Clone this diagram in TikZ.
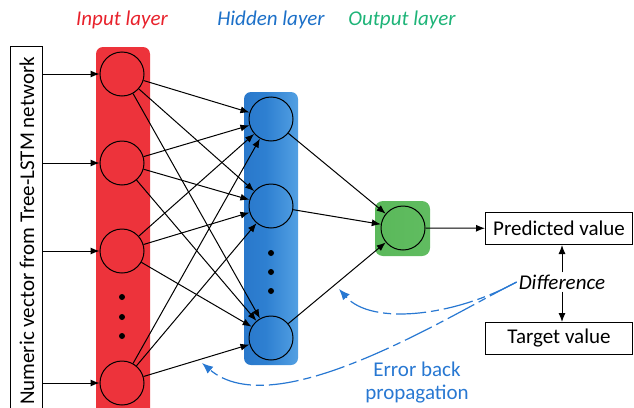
\documentclass[tikz,border=0pt]{standalone}
\usepackage{fontspec}
\setmainfont{Carlito}
\usetikzlibrary{arrows.meta}

\definecolor{inred}{RGB}{232,34,44}
\definecolor{hidblue}{RGB}{28,112,200}
\definecolor{outgreen}{RGB}{30,180,120}
\definecolor{errblue}{RGB}{40,120,210}

% column fills: strong centre, soft edges
\pgfdeclarehorizontalshading{redcol}{100bp}{%
  rgb(0bp)=(0.97,0.66,0.68); rgb(10bp)=(0.93,0.20,0.23); rgb(88bp)=(0.93,0.20,0.23); rgb(100bp)=(0.97,0.66,0.68)}
\pgfdeclarehorizontalshading{bluecol}{100bp}{%
  rgb(0bp)=(0.55,0.75,0.92); rgb(10bp)=(0.15,0.45,0.78); rgb(45bp)=(0.18,0.50,0.82); rgb(80bp)=(0.35,0.65,0.90); rgb(100bp)=(0.78,0.90,0.98)}
\pgfdeclarehorizontalshading{greenbox}{100bp}{%
  rgb(0bp)=(0.62,0.85,0.62); rgb(15bp)=(0.35,0.72,0.35); rgb(80bp)=(0.38,0.74,0.38); rgb(100bp)=(0.70,0.90,0.70)}

\begin{document}
\begin{tikzpicture}[x=1pt,y=-1pt,
  every node/.style={font=\fontsize{21}{24}\selectfont},
  title/.style={font=\fontsize{21}{24}\selectfont\itshape},
  neuron/.style={circle,draw=black,line width=1pt,minimum size=44pt,inner sep=0pt},
  conn/.style={draw=black,line width=1pt,-{Latex[length=9pt,width=7pt]}},
  valbox/.style={draw=black,line width=1pt,minimum width=147pt,minimum height=32pt,inner sep=0pt},
  errpath/.style={draw=errblue,line width=1.2pt,dash pattern=on 30pt off 5pt on 8pt off 5pt,
    -{Latex[length=11pt,width=9pt]}},
  bigdot/.style={circle,fill=black,minimum size=6pt,inner sep=0pt}]

\useasboundingbox (0,0) rectangle (634,407);
\clip (0,0) rectangle (634,407);

% layer columns
\shade[shading=redcol,rounded corners=7pt] (96,47) rectangle (150,415);
\shade[shading=bluecol,rounded corners=7pt] (244,92) rectangle (298,365);
\shade[shading=greenbox,rounded corners=8pt] (375,201) rectangle (430,256);

% layer titles
\node[title,text=inred] (tin) at (122,20) {Input layer};
\node[title,text=hidblue] (thid) at (271,20) {Hidden layer};
\node[title,text=outgreen] (tout) at (402,20) {Output layer};

% input vector box
\node[draw=black,line width=1pt,minimum width=370pt,minimum height=32pt,inner sep=0pt,rotate=90,anchor=south west] (vec) at (43,417) {};
\node[rotate=90] (vectxt) at (27,231) {Numeric vector from Tree-LSTM network};

% neurons
\node[neuron] (i1) at (122,74) {};
\node[neuron] (i2) at (122,163) {};
\node[neuron] (i3) at (122,251) {};
\node[neuron] (i4) at (122,383) {};
\node[neuron] (h1) at (271,119) {};
\node[neuron] (h2) at (271,206) {};
\node[neuron] (h3) at (271,338) {};
\node[neuron] (o1) at (403,228) {};

% ellipsis dots
\node[bigdot] (di1) at (122,297) {};
\node[bigdot] (di2) at (122,317) {};
\node[bigdot] (di3) at (122,336) {};
\node[bigdot] (dh1) at (271,253) {};
\node[bigdot] (dh2) at (271,272) {};
\node[bigdot] (dh3) at (271,291) {};

% inputs from the vector box
\foreach \n/\y in {i1/74,i2/163,i3/251,i4/383}{
  \coordinate (s\n) at (43,\y);
  \draw[conn] (s\n) -- (\n);
}

% fully connected layers
\foreach \a in {i1,i2,i3,i4}{
  \foreach \b in {h1,h2,h3}{
    \draw[conn] (\a) -- (\b);
  }
}
\foreach \b in {h1,h2,h3}{
  \draw[conn] (\b) -- (o1);
}

% prediction and target
\node[valbox] (pred) at (559,228.5) {Predicted value};
\node[valbox] (targ) at (559,338.5) {Target value};
\draw[conn] (o1) -- (pred);

\node[title,inner sep=2pt] (diff) at (562,282) {Difference};
\draw[conn] (diff.north -| 562,0) -- (562,0 |- pred.south);
\draw[conn] (diff.south -| 562,0) -- (562,0 |- targ.north);

% error back propagation
\coordinate (eA) at (339,289);
\coordinate (eB) at (202,363);
\draw[errpath] (diff.west) .. controls (455,316) and (372,326) .. (eA);
\draw[errpath] (diff.west) .. controls (445,318) and (275,425) .. (eB);
\node[text=errblue,align=center,font=\fontsize{21}{23}\selectfont] (err) at (417,383) {Error back\\propagation};
\end{tikzpicture}
\end{document}
